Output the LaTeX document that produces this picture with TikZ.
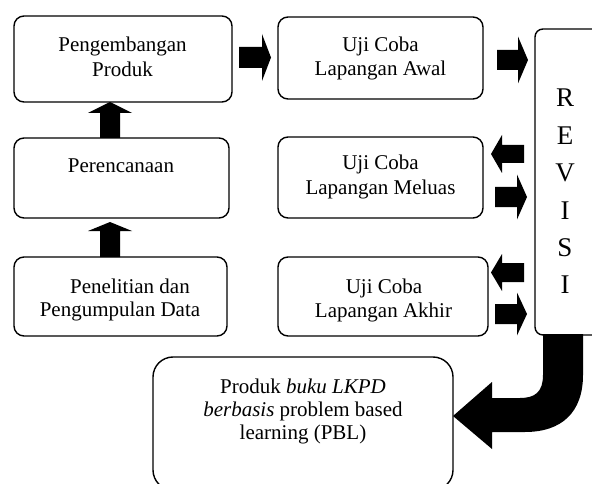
\documentclass[tikz,border=0pt]{standalone}
\usepackage{fontspec}
\setmainfont{Liberation Serif}
\newcommand\harr[6]{% from x, tip x, y centre, shaft, head width, head length (signed)
  \fill (#1,{#3-#4/2}) -- ({#2-#6},{#3-#4/2}) -- ({#2-#6},{#3-#5/2}) -- (#2,#3)
    -- ({#2-#6},{#3+#5/2}) -- ({#2-#6},{#3+#4/2}) -- (#1,{#3+#4/2}) -- cycle;}
\newcommand\varr[6]{% from y, tip y, x centre, shaft, head width, head length (signed)
  \fill ({#3-#4/2},#1) -- ({#3-#4/2},{#2-#6}) -- ({#3-#5/2},{#2-#6}) -- (#3,#2)
    -- ({#3+#5/2},{#2-#6}) -- ({#3+#4/2},{#2-#6}) -- ({#3+#4/2},#1) -- cycle;}
\begin{document}
\begin{tikzpicture}[x=1pt,y=-1pt,
  box/.style={draw, line width=1.4pt, rounded corners=10pt, inner sep=0pt},
  txt/.style={anchor=base, inner sep=0pt, font=\fontsize{21}{25}\selectfont}]
\useasboundingbox (0,0) rectangle (592,484);
\clip (0,0) rectangle (592,484);
% boxes
\node[box, minimum width=218pt, minimum height=86pt] (b1) at (123,59) {};
\node[box, minimum width=215pt, minimum height=80pt] (b2) at (121.5,178) {};
\node[box, minimum width=213pt, minimum height=79pt] (b3) at (120.5,296.5) {};
\node[box, minimum width=205pt, minimum height=82pt] (a1) at (380.5,58) {};
\node[box, minimum width=205pt, minimum height=81pt] (a2) at (380.5,177.5) {};
\node[box, minimum width=210pt, minimum height=79pt] (a3) at (383,296.5) {};
\node[box, rounded corners=8pt, minimum width=75pt, minimum height=306pt] (rev) at (572.5,182) {};
\node[box, rounded corners=20pt, minimum width=300pt, minimum height=133pt] (prod) at (303,423.5) {};
% texts
\node[txt] (t1a) at (122.5,52) {Pengembangan};
\node[txt] (t1b) at (122.5,77) {Produk};
\node[txt] (t2a) at (121,173) {Perencanaan};
\node[txt] (t3a) at (130,293) {Penelitian dan};
\node[txt] (t3b) at (120,316) {Pengumpulan Data};
\node[txt] (u1a) at (380.5,52) {Uji Coba};
\node[txt] (u1b) at (380.5,76) {Lapangan Awal};
\node[txt] (u2a) at (380.5,170) {Uji Coba};
\node[txt] (u2b) at (380.5,194) {Lapangan Meluas};
\node[txt] (u3a) at (384,293) {Uji Coba};
\node[txt] (u3b) at (383.5,317) {Lapangan Akhir};
\node[txt] (p1) at (303,393) {Produk \textit{buku LKPD}};
\node[txt] (p2) at (303,416) {\textit{berbasis} problem based};
\node[txt] (p3) at (303,439) {learning (PBL)};
\node[anchor=north, inner sep=0pt, align=center, font=\fontsize{27}{37.4}\selectfont] (revt) at (565,89) {R\\E\\V\\I\\S\\I};
% straight block arrows
\varr{138}{102}{110}{20}{44}{-11}
\varr{257}{222}{110}{20}{44}{-9}
\harr{239}{271}{57.5}{21}{47}{9}
\harr{497}{528}{60}{20}{47}{10}
\harr{524}{491}{154}{18}{38}{-11}
\harr{495}{527}{197}{20}{45}{10}
\harr{524}{491}{272.5}{19}{37}{-11}
\harr{495}{527}{314}{20}{43}{10}
% curved arrow from REVISI to product
\fill (543,334) -- (543,375) .. controls (543,392) and (535,398) .. (520,398)
  -- (492,398) -- (492,382) -- (453,416) -- (492,449) -- (492,432) -- (525,432)
  .. controls (562,432) and (583,412) .. (583,375) -- (583,334) -- cycle;
\end{tikzpicture}
\end{document}
